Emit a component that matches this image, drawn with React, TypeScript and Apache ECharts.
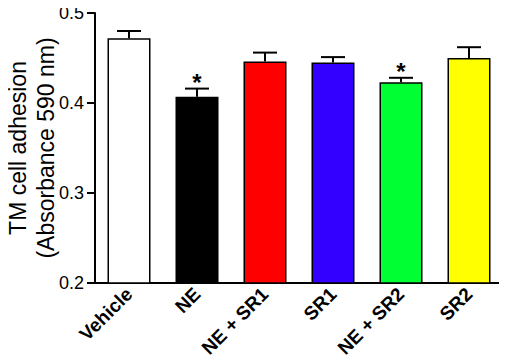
import React, { useEffect, useRef } from "react";
import * as echarts from "echarts";

const categories = ["Vehicle", "NE", "NE + SR1", "SR1", "NE + SR2", "SR2"];
const means = [0.472, 0.407, 0.446, 0.445, 0.423, 0.45];
const errors = [0.008, 0.009, 0.01, 0.006, 0.005, 0.012];
const significance = ["", "*", "", "", "*", ""];
const barColors = ["#ffffff", "#000000", "#ff0000", "#3300ff", "#00ff33", "#ffff00"];
const yTicks = { min: 0.2, max: 0.5, interval: 0.1 };

const FONT = "'Liberation Sans', Arial, sans-serif";

export default function App() {
  const ref = useRef<HTMLDivElement>(null);
  useEffect(() => {
    if (!ref.current) return;
    const chart = echarts.init(ref.current, undefined, { renderer: "svg" });
    const errData = categories.map((c, i) => [i, means[i], means[i] + errors[i], significance[i]]);
    chart.setOption({
      animation: false,
      grid: { left: 95, right: 4, top: 13, bottom: 81, containLabel: false, outerBoundsMode: "none" },
      xAxis: {
        type: "category",
        data: categories,
        axisLine: { lineStyle: { color: "#000", width: 2 } },
        axisTick: { show: false },
        axisLabel: {
          rotate: 45,
          color: "#000",
          fontFamily: FONT,
          fontWeight: "bold",
          fontSize: 19,
          margin: 8,
          interval: 0,
          hideOverlap: false,
        },
      },
      yAxis: {
        type: "value",
        min: yTicks.min,
        max: yTicks.max,
        interval: yTicks.interval,
        name: "TM cell adhesion\n(Absorbance 590 nm)",
        nameLocation: "middle",
        nameGap: 35,
        nameMoveOverlap: false,
        nameTextStyle: { color: "#000", fontFamily: FONT, fontSize: 23, lineHeight: 28 },
        axisLine: { show: true, lineStyle: { color: "#000", width: 2 } },
        axisTick: { show: true, length: 8, lineStyle: { color: "#000", width: 2 } },
        splitLine: { show: false },
        axisLabel: {
          color: "#000",
          fontFamily: FONT,
          fontSize: 18,
          margin: 11,
          formatter: (v: number) => v.toFixed(1),
        },
      },
      series: [
        {
          type: "bar",
          barWidth: 43,
          data: means.map((v, i) => ({
            value: v,
            itemStyle: { color: barColors[i], borderColor: "#000", borderWidth: 1.5 },
          })),
          z: 3,
        },
        {
          type: "custom",
          z: 2,
          data: errData,
          renderItem: (params: any, api: any) => {
            const x = api.value(0);
            const lo = api.coord([x, api.value(1)]);
            const hi = api.coord([x, api.value(2)]);
            const sig = errData[params.dataIndex][3] as string;
            const half = 12;
            const children: any[] = [
              {
                type: "line",
                shape: { x1: lo[0], y1: lo[1], x2: hi[0], y2: hi[1] },
                style: { stroke: "#000", lineWidth: 2 },
              },
              {
                type: "line",
                shape: { x1: hi[0] - half, y1: hi[1], x2: hi[0] + half, y2: hi[1] },
                style: { stroke: "#000", lineWidth: 2 },
              },
            ];
            if (sig) {
              children.push({
                type: "text",
                style: {
                  text: sig,
                  x: hi[0],
                  y: hi[1] + 6,
                  align: "center",
                  verticalAlign: "bottom",
                  fill: "#000",
                  font: `bold 24px ${FONT}`,
                },
              });
            }
            return { type: "group", children };
          },
        },
      ],
    });
    return () => chart.dispose();
  }, []);
  return <div ref={ref} style={{ width: 507, height: 364, margin: -8 }} />;
}
